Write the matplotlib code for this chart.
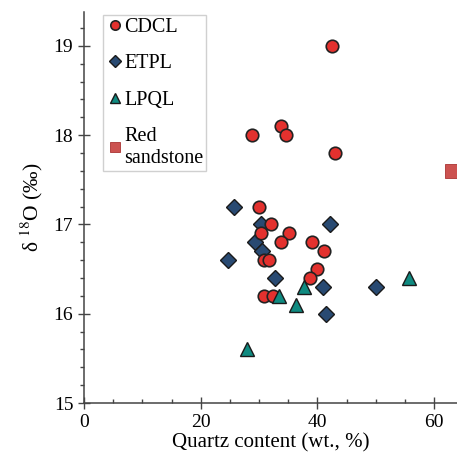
import matplotlib.pyplot as plt
import matplotlib.ticker as mticker

plt.rcParams['font.family'] = ['Liberation Serif', 'DejaVu Serif']
plt.rcParams['mathtext.fontset'] = 'stix'

# CDCL
cdcl_x = [42.5, 28.7, 33.8, 34.6, 43.0, 30.0, 32.1, 30.3, 35.2, 33.8, 39.1,
          41.2, 30.9, 31.7, 40.0, 38.7, 30.9, 32.4]
cdcl_y = [19.0, 18.0, 18.1, 18.0, 17.8, 17.2, 17.0, 16.9, 16.9, 16.8, 16.8,
          16.7, 16.6, 16.6, 16.5, 16.4, 16.2, 16.2]

# ETPL
etpl_x = [25.7, 30.3, 42.2, 29.3, 30.5, 24.7, 32.8, 40.9, 41.4, 50.1]
etpl_y = [17.2, 17.0, 17.0, 16.8, 16.7, 16.6, 16.4, 16.3, 16.0, 16.3]

# LPQL
lpql_x = [37.7, 33.4, 36.4, 55.7, 27.9]
lpql_y = [16.3, 16.2, 16.1, 16.4, 15.6]

# Red sandstone
red_x = [63.0]
red_y = [17.6]

fig = plt.figure(figsize=(4.57, 4.63), dpi=100)
ax = fig.add_axes([84 / 457, 60 / 463, 373 / 457, 391 / 463])

ax.plot(cdcl_x, cdcl_y, 'o', ms=9, mfc='#E3312E', mec='#222222', mew=1.2, ls='none', label='CDCL', zorder=3)
ax.plot(etpl_x, etpl_y, 'D', ms=8.5, mfc='#294A72', mec='#1a1a1a', mew=1.0, ls='none', label='ETPL', zorder=2)
ax.plot(lpql_x, lpql_y, '^', ms=9.5, mfc='#0F8A80', mec='#1a1a1a', mew=1.0, ls='none', label='LPQL', zorder=4)
ax.plot(red_x, red_y, 's', ms=10.5, mfc='#CC5250', mec='#A33', mew=0.6, ls='none', label='Red\nsandstone', zorder=3)

ax.set_xlim(0, 63.9)
ax.set_ylim(15, 19.38)

ax.xaxis.set_major_locator(mticker.MultipleLocator(20))
ax.xaxis.set_minor_locator(mticker.MultipleLocator(5))
ax.yaxis.set_major_locator(mticker.MultipleLocator(1))
ax.yaxis.set_minor_locator(mticker.MultipleLocator(0.2))

ax.tick_params(which='major', direction='inout', length=8.5, width=1, color='#444444', labelsize=14)
ax.tick_params(axis='x', which='minor', direction='in', length=3.2, width=1, color='#444444')
ax.tick_params(axis='y', which='minor', direction='out', length=3.2, width=1, color='#444444')

for side in ['top', 'right']:
    ax.spines[side].set_visible(False)
for side in ['left', 'bottom']:
    ax.spines[side].set_color('#444444')
    ax.spines[side].set_linewidth(1.1)

ax.set_xlabel('Quartz content (wt., %)', fontsize=15, labelpad=2)
ax.set_ylabel(r'δ $^{18}$O (‰)', fontsize=15.5, labelpad=6)

leg = ax.legend(loc='upper left', bbox_to_anchor=(0.051, 0.992), borderaxespad=0,
                fontsize=14.5, markerscale=0.75, handletextpad=0.0, handlelength=0.9,
                labelspacing=0.85, borderpad=0.15, fancybox=False, framealpha=1)
leg.get_frame().set_edgecolor('#d0d0d0')
leg.get_frame().set_linewidth(1)

fig.savefig('out.png', dpi=100)
